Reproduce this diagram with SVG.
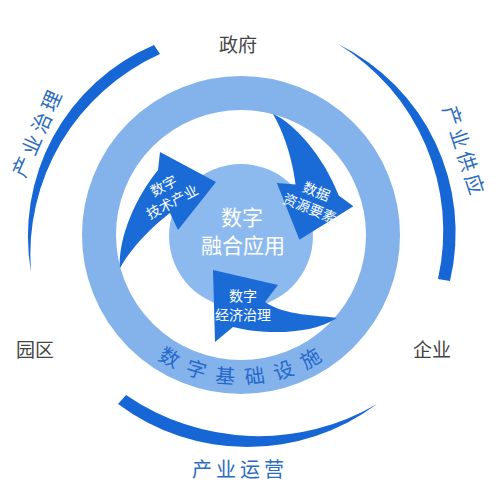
<svg xmlns="http://www.w3.org/2000/svg" width="500" height="500" viewBox="0 0 500 500">
<style>
.cjk{font-family:"Noto Sans CJK SC","Noto Sans",sans-serif}
.gray{fill:#444;font-size:19px}
.lbl{fill:#2a6bbf;font-size:20px;letter-spacing:4px}
.arr{fill:#1a6bd6}
.arc{fill:#1766d6}
.wt{fill:#fff;font-size:14px;text-anchor:middle}
</style>
<defs>
<path id="ringPath" d="M92,235 A149,149 0 0 0 390,235"/>
<path id="arrowShape" d="M120,268 C118,245 130,205 158,170 L160,152 L216,182 L178,230 L170,213 C158,222 135,242 120,268 Z"/>
</defs>
<rect width="500" height="500" fill="#fff"/>

<g id="ring">
<circle cx="241" cy="235" r="142" fill="none" stroke="#84b2ea" stroke-width="34"/>
<text class="cjk" font-size="20" fill="#2569cc" letter-spacing="11" text-anchor="middle"><textPath href="#ringPath" startOffset="51%">数字基础设施</textPath></text>
</g>

<g id="core">
<circle cx="241" cy="236" r="72" fill="#8dbaee"/>
<text class="cjk" x="242" y="225" font-size="21" fill="#fff" text-anchor="middle">数字</text>
<text class="cjk" x="243" y="253" font-size="21" fill="#fff" text-anchor="middle">融合应用</text>
</g>

<g id="arrows">
<g id="arrow-tech">
<use href="#arrowShape" class="arr"/>
<g transform="translate(168,194) rotate(-28)">
<text class="cjk wt" x="0" y="-4">数字</text>
<text class="cjk wt" x="0" y="14">技术产业</text>
</g>
</g>
<g id="arrow-data">
<use href="#arrowShape" class="arr" transform="rotate(120 241 235)"/>
<g transform="translate(313,200) rotate(22)">
<text class="cjk wt" x="0" y="-4">数据</text>
<text class="cjk wt" x="0" y="14">资源要素</text>
</g>
</g>
<g id="arrow-econ">
<path class="arr" d="M337,318 C318,315 285,316 265,302 L278,285 L213,270 L215,342 L233,327 C260,334 310,336 337,318 Z"/>
<text class="cjk wt" x="243" y="301">数字</text>
<text class="cjk wt" x="243" y="320">经济治理</text>
</g>
</g>

<g id="outer-arcs">
<path id="arc-governance" class="arc" d="M154,45 A208,208 0 0 0 31,272 A220,220 0 0 1 160,54 Z"/>
<path id="arc-supply" class="arc" d="M338,44 A210,210 0 0 1 450,281 L438,279 A219,219 0 0 0 338,44 Z"/>
<path id="arc-operation" class="arc" d="M118,404 A216.5,216.5 0 0 0 377,404 A234,234 0 0 1 126,395 Z"/>
</g>

<g id="labels">
<text class="cjk gray" x="238" y="52" text-anchor="middle">政府</text>
<text class="cjk gray" x="35" y="357" text-anchor="middle">园区</text>
<text class="cjk gray" x="432" y="357" text-anchor="middle">企业</text>
<text class="cjk lbl" transform="translate(37,134) rotate(-66)" x="2" y="7" text-anchor="middle">产业治理</text>
<text class="cjk lbl" transform="translate(463,150) rotate(72)" x="2" y="7" text-anchor="middle">产业供应</text>
<text class="cjk lbl" x="240" y="477" text-anchor="middle">产业运营</text>
</g>
</svg>
